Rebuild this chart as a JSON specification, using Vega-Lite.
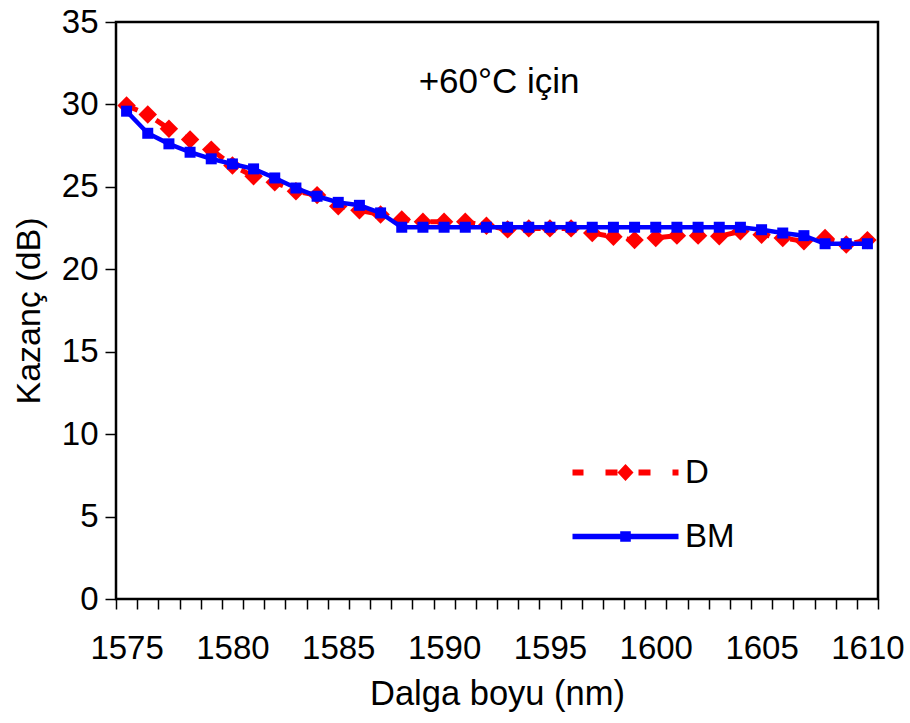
{
  "$schema": "https://vega.github.io/schema/vega-lite/v6.json",
  "width": 762,
  "height": 577,
  "autosize": {"type": "none"},
  "padding": {"left": 116, "top": 22, "right": 32, "bottom": 124},
  "background": "white",
  "config": {
    "view": {"stroke": "black", "strokeWidth": 2.5},
    "font": "Liberation Sans"
  },
  "data": {
    "values": [
      {"series": "D", "nm": 1575, "gain": 29.93},
      {"series": "D", "nm": 1576, "gain": 29.39},
      {"series": "D", "nm": 1577, "gain": 28.52},
      {"series": "D", "nm": 1578, "gain": 27.87},
      {"series": "D", "nm": 1579, "gain": 27.26},
      {"series": "D", "nm": 1580, "gain": 26.29},
      {"series": "D", "nm": 1581, "gain": 25.64},
      {"series": "D", "nm": 1582, "gain": 25.28},
      {"series": "D", "nm": 1583, "gain": 24.73},
      {"series": "D", "nm": 1584, "gain": 24.5},
      {"series": "D", "nm": 1585, "gain": 23.82},
      {"series": "D", "nm": 1586, "gain": 23.58},
      {"series": "D", "nm": 1587, "gain": 23.32},
      {"series": "D", "nm": 1588, "gain": 23.02},
      {"series": "D", "nm": 1589, "gain": 22.88},
      {"series": "D", "nm": 1590, "gain": 22.88},
      {"series": "D", "nm": 1591, "gain": 22.88},
      {"series": "D", "nm": 1592, "gain": 22.64},
      {"series": "D", "nm": 1593, "gain": 22.42},
      {"series": "D", "nm": 1594, "gain": 22.48},
      {"series": "D", "nm": 1595, "gain": 22.48},
      {"series": "D", "nm": 1596, "gain": 22.48},
      {"series": "D", "nm": 1597, "gain": 22.2},
      {"series": "D", "nm": 1598, "gain": 21.97},
      {"series": "D", "nm": 1599, "gain": 21.77},
      {"series": "D", "nm": 1600, "gain": 21.9},
      {"series": "D", "nm": 1601, "gain": 22.04},
      {"series": "D", "nm": 1602, "gain": 22.04},
      {"series": "D", "nm": 1603, "gain": 22.0},
      {"series": "D", "nm": 1604, "gain": 22.3},
      {"series": "D", "nm": 1605, "gain": 22.1},
      {"series": "D", "nm": 1606, "gain": 21.9},
      {"series": "D", "nm": 1607, "gain": 21.7},
      {"series": "D", "nm": 1608, "gain": 21.9},
      {"series": "D", "nm": 1609, "gain": 21.5},
      {"series": "D", "nm": 1610, "gain": 21.77},
      {"series": "BM", "nm": 1575, "gain": 29.59},
      {"series": "BM", "nm": 1576, "gain": 28.25},
      {"series": "BM", "nm": 1577, "gain": 27.61},
      {"series": "BM", "nm": 1578, "gain": 27.1},
      {"series": "BM", "nm": 1579, "gain": 26.7},
      {"series": "BM", "nm": 1580, "gain": 26.39},
      {"series": "BM", "nm": 1581, "gain": 26.09},
      {"series": "BM", "nm": 1582, "gain": 25.54},
      {"series": "BM", "nm": 1583, "gain": 24.93},
      {"series": "BM", "nm": 1584, "gain": 24.43},
      {"series": "BM", "nm": 1585, "gain": 24.06},
      {"series": "BM", "nm": 1586, "gain": 23.88},
      {"series": "BM", "nm": 1587, "gain": 23.42},
      {"series": "BM", "nm": 1588, "gain": 22.55},
      {"series": "BM", "nm": 1589, "gain": 22.55},
      {"series": "BM", "nm": 1590, "gain": 22.55},
      {"series": "BM", "nm": 1591, "gain": 22.55},
      {"series": "BM", "nm": 1592, "gain": 22.55},
      {"series": "BM", "nm": 1593, "gain": 22.55},
      {"series": "BM", "nm": 1594, "gain": 22.55},
      {"series": "BM", "nm": 1595, "gain": 22.55},
      {"series": "BM", "nm": 1596, "gain": 22.55},
      {"series": "BM", "nm": 1597, "gain": 22.55},
      {"series": "BM", "nm": 1598, "gain": 22.55},
      {"series": "BM", "nm": 1599, "gain": 22.55},
      {"series": "BM", "nm": 1600, "gain": 22.55},
      {"series": "BM", "nm": 1601, "gain": 22.55},
      {"series": "BM", "nm": 1602, "gain": 22.55},
      {"series": "BM", "nm": 1603, "gain": 22.55},
      {"series": "BM", "nm": 1604, "gain": 22.55},
      {"series": "BM", "nm": 1605, "gain": 22.4},
      {"series": "BM", "nm": 1606, "gain": 22.2},
      {"series": "BM", "nm": 1607, "gain": 22.04},
      {"series": "BM", "nm": 1608, "gain": 21.55},
      {"series": "BM", "nm": 1609, "gain": 21.55},
      {"series": "BM", "nm": 1610, "gain": 21.55}
    ]
  },
  "encoding": {
    "x": {
      "field": "nm",
      "type": "quantitative",
      "scale": {"domain": [1574.5, 1610.5], "nice": false, "zero": false},
      "axis": {
        "values": [1574.5, 1575.5, 1576.5, 1577.5, 1578.5, 1579.5, 1580.5, 1581.5, 1582.5, 1583.5, 1584.5, 1585.5, 1586.5, 1587.5, 1588.5, 1589.5, 1590.5, 1591.5, 1592.5, 1593.5, 1594.5, 1595.5, 1596.5, 1597.5, 1598.5, 1599.5, 1600.5, 1601.5, 1602.5, 1603.5, 1604.5, 1605.5, 1606.5, 1607.5, 1608.5, 1609.5, 1610.5],
        "labelExpr": "(datum.value + 0.5) % 5 === 0 ? format(datum.value + 0.5, 'd') : ''",
        "labelOffset": 10.58,
        "labelOverlap": false,
        "labelFlush": false,
        "labelBound": false,
        "domain": false,
        "grid": false,
        "tickSize": 10,
        "tickColor": "black",
        "tickWidth": 1.5,
        "labelFontSize": 33,
        "labelColor": "black",
        "labelPadding": 23,
        "title": "Dalga boyu (nm)",
        "titleFontSize": 34.5,
        "titleFontWeight": "normal",
        "titleColor": "black",
        "titlePadding": 12
      }
    },
    "y": {
      "field": "gain",
      "type": "quantitative",
      "scale": {"domain": [0, 35], "nice": false},
      "axis": {
        "values": [0, 5, 10, 15, 20, 25, 30, 35],
        "domain": false,
        "grid": false,
        "tickSize": 11,
        "tickColor": "black",
        "tickWidth": 1.5,
        "labelFontSize": 33,
        "labelColor": "black",
        "labelPadding": 7,
        "title": "Kazanç (dB)",
        "titleFontSize": 34,
        "titleFontWeight": "normal",
        "titleColor": "black",
        "titlePadding": 15
      }
    }
  },
  "layer": [
    {
      "encoding": {
        "color": {
          "field": "series",
          "type": "nominal",
          "scale": {"domain": ["D", "BM"], "range": ["#ff0000", "#0000ff"]},
          "legend": {
            "orient": "none",
            "legendX": 493,
            "legendY": 434,
            "title": null,
            "padding": 0,
            "labelFont": "Liberation Sans",
            "labelFontSize": 33,
            "labelColor": "black",
            "labelOffset": 43,
            "rowPadding": 30,
            "symbolSize": 400,
            "symbolStrokeWidth": 0,
            "encode": {
              "symbols": {
                "update": {
                  "shape": {"signal": "datum.value === 'D' ? 'M-5.3,-0.3H-4.2V0.3H-5.3Z M-2,-0.3H-0.8V0.3H-2Z M1.3,-0.3H2.5V0.3H1.3Z M4.7,-0.3H5.3V0.3H4.7Z M0,-0.85L0.8,0L0,0.85L-0.8,0Z' : 'M-5.3,-0.27H5.3V0.27H-5.3Z M-0.53,-0.53H0.53V0.53H-0.53Z'"},
                  "fill": {"signal": "datum.value === 'D' ? '#ff0000' : '#0000ff'"},
                  "fillOpacity": {"value": 1},
                  "opacity": {"value": 1},
                  "stroke": {"value": "transparent"},
                  "strokeWidth": {"value": 0},
                  "strokeDash": {"value": []},
                  "size": {"value": 400}
                }
              }
            }
          }
        }
      },
      "layer": [
        {
          "transform": [{"filter": "datum.series === 'D'"}],
          "mark": {"type": "line", "strokeWidth": 5, "strokeDash": [12, 21]}
        },
        {
          "transform": [{"filter": "datum.series === 'D'"}],
          "mark": {"type": "point", "shape": "diamond", "filled": true, "size": 340, "opacity": 1}
        },
        {
          "transform": [{"filter": "datum.series === 'BM'"}],
          "mark": {"type": "line", "strokeWidth": 4.5}
        },
        {
          "transform": [{"filter": "datum.series === 'BM'"}],
          "mark": {"type": "point", "shape": "square", "filled": true, "size": 121, "opacity": 1}
        }
      ]
    },
    {
      "data": {"values": [{"label": "+60°C için", "nm": 1592.6, "gain": 30.7}]},
      "mark": {"type": "text", "fontSize": 35, "font": "Liberation Sans", "baseline": "alphabetic", "align": "center", "fill": "black"},
      "encoding": {
        "text": {"field": "label", "type": "nominal"}
      }
    }
  ]
}
